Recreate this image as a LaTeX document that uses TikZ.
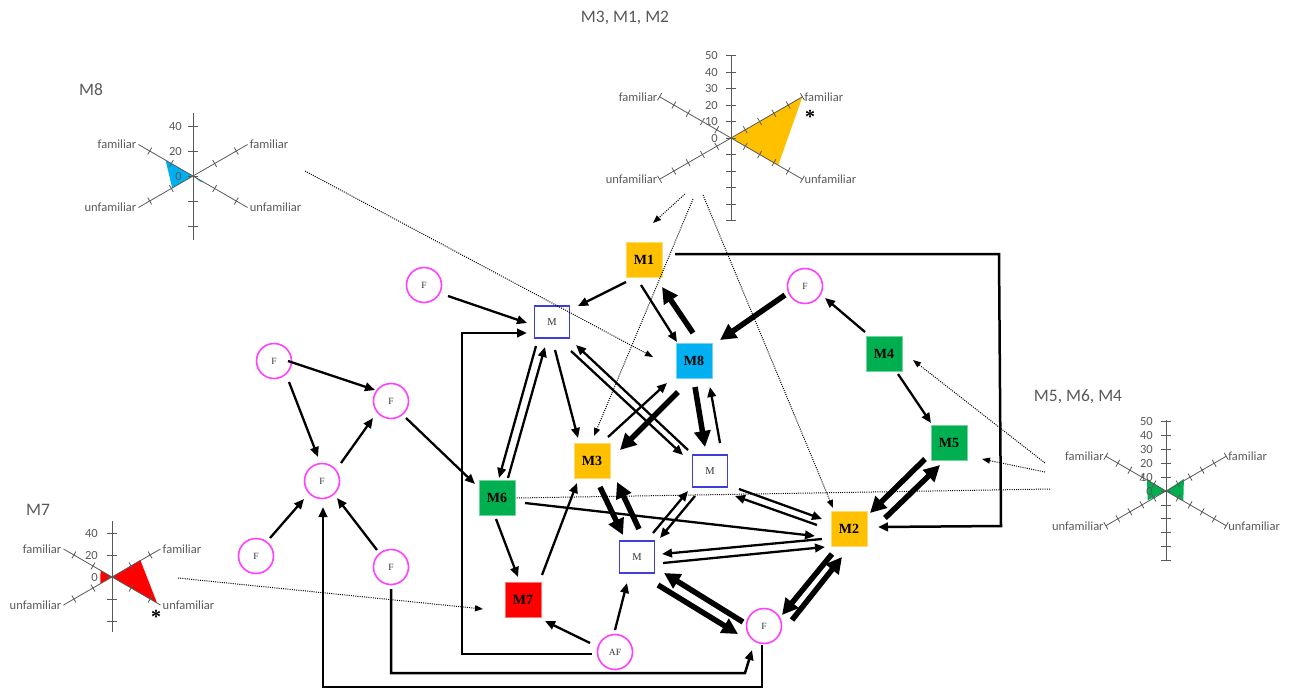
\documentclass[tikz,border=0pt]{standalone}
\usepackage{fontspec}
\setmainfont{Liberation Serif}
\newfontfamily\chartfont{Carlito}
\usetikzlibrary{arrows.meta,calc}
\definecolor{orng}{HTML}{FFC000}
\definecolor{blu}{HTML}{00B0F0}
\definecolor{grn}{HTML}{00B050}
\definecolor{rd}{HTML}{FF0000}
\definecolor{mag}{HTML}{FF40FF}
\definecolor{mboxc}{HTML}{3F3FD8}
\definecolor{axg}{HTML}{595959}
\tikzset{
  cbox/.style={draw=#1!55!white, fill=#1, line width=0.8pt, minimum width=36pt, minimum height=35pt, inner sep=0pt, font=\bfseries\fontsize{14}{16}\selectfont},
  mbox/.style={draw=mboxc, fill=white, line width=1.5pt, minimum width=35pt, minimum height=32pt, inner sep=0pt, font=\fontsize{10.5}{12}\selectfont, text=black!80},
  fnode/.style={circle, draw=mag, line width=1.6pt, minimum size=35pt, inner sep=0pt, font=\fontsize{9.5}{11}\selectfont, text=black!80},
  arrN/.style={line width=2.3pt, -{Triangle[length=10pt,width=8.5pt]}},
  arrT/.style={line width=5.5pt, -{Triangle[length=16pt,width=16pt]}},
  arrE/.style={line width=2.5pt, -{Triangle[length=10pt,width=8.5pt]}},
  dotA/.style={line width=1pt, dash pattern=on 1pt off 1.2pt, -{Triangle[length=8pt,width=6pt]}},
  dotN/.style={line width=1pt, dash pattern=on 1pt off 1.2pt},
  ax/.style={draw=axg, line width=0.8pt},
  lbl/.style={text=axg, font=\chartfont\fontsize{12.5}{14}\selectfont, inner sep=2pt},
  ttl/.style={text=axg, font=\chartfont\fontsize{17.5}{20}\selectfont, inner sep=0pt},
  star/.style={font=\bfseries\fontsize{20}{20}\selectfont, inner sep=0pt}
}
\begin{document}
\begin{tikzpicture}[x=1pt,y=-1pt]
\useasboundingbox (0,0) rectangle (1290,689);

% ---------------- radar: M3, M1, M2 ----------------
\node[ttl] (t1) at (625,18) {M3, M1, M2};
\begin{scope}[shift={(731,138)}]
  \fill[orng] (0,0) -- (-30:82.5) -- (30:54.5) -- cycle;
  \draw[ax] (0,-82) -- (0,82);
  \foreach \k in {-5,...,5} \draw[ax] (-5,{\k*16.5}) -- (5,{\k*16.5});
  \foreach \t in {30,150,210,330} {
    \draw[ax] (0,0) -- (\t:82.5);
    \foreach \k in {1,...,5} \draw[ax] (\t:{\k*16.5}) ++(\t+90:4) -- ++(\t-90:8);
  }
  \foreach \v in {0,10,...,50} \node[lbl,anchor=east,inner sep=1pt] at (-12,{-\v*1.65}) {\v};
  \node[lbl,anchor=east] at (-150:82.5) {familiar};
  \node[lbl,anchor=west] at (-30:82.5) {familiar};
  \node[lbl,anchor=east] at (150:82.5) {unfamiliar};
  \node[lbl,anchor=west] at (30:82.5) {unfamiliar};
  \node[star] at (79,-21) {*};
  \coordinate (r1a) at (-46,56);
  \coordinate (r1b) at (-38,61);
  \coordinate (r1c) at (-28,57);
\end{scope}

% ---------------- radar: M8 ----------------
\node[ttl] (t2) at (91,90) {M8};
\begin{scope}[shift={(193,176)}]
  \fill[blu] (0,0) -- (-150:31.7) -- (150:24) -- cycle;
  \fill[blu] (0,0) -- (30:13) -- (38:9) -- cycle;
  \draw[ax] (0,-63) -- (0,64);
  \foreach \k in {-2,...,2} \draw[ax] (-5,{\k*25}) -- (5,{\k*25});
  \foreach \t in {30,150,210,330} {
    \draw[ax] (0,0) -- (\t:63);
    \foreach \k in {1,2} \draw[ax] (\t:{\k*25}) ++(\t+90:4) -- ++(\t-90:8);
  }
  \foreach \v in {0,20,40} \node[lbl,anchor=east,inner sep=1pt] at (-10,{-\v*1.25}) {\v};
  \node[lbl,anchor=east] at (-150:63) {familiar};
  \node[lbl,anchor=west] at (-30:63) {familiar};
  \node[lbl,anchor=east] at (150:63) {unfamiliar};
  \node[lbl,anchor=west] at (30:63) {unfamiliar};
  \coordinate (r2a) at (112,-5);
\end{scope}

% ---------------- radar: M7 ----------------
\node[ttl] (t3) at (38,510) {M7};
\begin{scope}[shift={(112,577)}]
  \fill[rd] (0,0) -- (-150:13.2) -- (150:13.5) -- cycle;
  \fill[rd] (0,0) -- (-31:33) -- (30:52) -- cycle;
  \draw[ax] (0,-56) -- (0,55);
  \foreach \k in {-2,...,2} \draw[ax] (-5,{\k*22}) -- (5,{\k*22});
  \foreach \t in {30,150,210,330} {
    \draw[ax] (0,0) -- (\t:56);
    \foreach \k in {1,2} \draw[ax] (\t:{\k*22}) ++(\t+90:4) -- ++(\t-90:8);
  }
  \foreach \v in {0,20,40} \node[lbl,anchor=east,inner sep=1pt] at (-13,{-\v*1.1}) {\v};
  \node[lbl,anchor=east] at (-150:56) {familiar};
  \node[lbl,anchor=west] at (-30:56) {familiar};
  \node[lbl,anchor=east] at (150:56) {unfamiliar};
  \node[lbl,anchor=west] at (30:56) {unfamiliar};
  \node[star] at (44,40) {*};
  \coordinate (r3a) at (66,1);
\end{scope}

% ---------------- radar: M5, M6, M4 ----------------
\node[ttl] (t4) at (1078,397) {M5, M6, M4};
\begin{scope}[shift={(1166,491)}]
  \fill[grn] (0,0) -- (-148:22.5) -- (153:20.5) -- cycle;
  \fill[grn] (0,0) -- (-34:21.6) -- (30:20) -- cycle;
  \draw[ax] (0,-71) -- (0,70);
  \foreach \k in {-5,...,5} \draw[ax] (-5,{\k*13.9}) -- (5,{\k*13.9});
  \foreach \t in {30,150,210,330} {
    \draw[ax] (0,0) -- (\t:69.5);
    \foreach \k in {1,...,5} \draw[ax] (\t:{\k*13.9}) ++(\t+90:4) -- ++(\t-90:8);
  }
  \foreach \v in {0,10,...,50} \node[lbl,anchor=east,inner sep=1pt] at (-12,{-\v*1.39}) {\v};
  \node[lbl,anchor=east] at (-150:69.5) {familiar};
  \node[lbl,anchor=west] at (-30:69.5) {familiar};
  \node[lbl,anchor=east] at (150:69.5) {unfamiliar};
  \node[lbl,anchor=west] at (30:69.5) {unfamiliar};
  \coordinate (r4a) at (-121,-28);
  \coordinate (r4b) at (-121,-19);
  \coordinate (r4c) at (-116,-2);
\end{scope}

% ---------------- nodes ----------------
\node[cbox=orng] (M1) at (644,260) {M1};
\node[cbox=blu]  (M8) at (694,361) {M8};
\node[cbox=orng] (M3) at (592,461) {M3};
\node[cbox=grn]  (M6) at (497,498) {M6};
\node[cbox=rd]   (M7) at (523,600) {M7};
\node[cbox=orng] (M2) at (849,529) {M2};
\node[cbox=grn]  (M4) at (884,354) {M4};
\node[cbox=grn]  (M5) at (949,443) {M5};
\node[mbox] (topM) at (552,322) {M};
\node[mbox] (rightM) at (710,471) {M};
\node[mbox] (botM) at (637,557) {M};
\node[fnode] (Fa) at (424,285) {F};
\node[fnode] (Fb) at (274,361) {F};
\node[fnode] (Fc) at (391,401) {F};
\node[fnode] (Fd) at (322,481) {F};
\node[fnode] (Fe) at (256,556) {F};
\node[fnode] (Ff) at (391,567) {F};
\node[fnode] (Fg) at (805,286) {F};
\node[fnode] (Fh) at (764,626) {F};
\node[fnode] (AF) at (615,652) {AF};

% ---------------- dotted links ----------------
\draw[dotA] (r2a) -- ($(M8)+(-41,-4)$);
\draw[dotA] (r1a) -- ($(M1)+(9,-37)$);
\draw[dotA] (r1b) -- ($(M3)+(2,-25)$);
\draw[dotA] (r1c) -- ($(M2)+(-16,-21)$);
\draw[dotA] (r4a) -- ($(M4)+(29,6)$);
\draw[dotA] (r4b) -- ($(M5)+(33,16)$);
\draw[dotN] (r4c) -- (M6.east);
\draw[dotA] (r3a) -- ($(M7)+(-40,9)$);

% ---------------- normal arrows ----------------
\draw[arrN] ($(M1)+(-18,22)$) -- ($(topM)+(26,-16)$);
\draw[arrN] ($(M1)+(-3,25)$) -- ($(M8)+(-17,-19)$);
\draw[arrN] ($(Fa)+(24,11)$) -- ($(topM)+(-25,1)$);
\draw[arrN] ($(topM)+(-16,24)$) -- ($(M6)+(2,-20)$);
\draw[arrN] ($(M6)+(11,-20)$) -- ($(topM)+(-7,25)$);
\draw[arrN] ($(topM)+(3,28)$) -- ($(M3)+(-14,-23)$);
\draw[arrN] ($(topM)+(19,29)$) -- ($(rightM)+(-27,-16)$);
\draw[arrN] ($(rightM)+(-22,-21)$) -- ($(topM)+(24,23)$);
\draw[arrN] ($(M3)+(16,-24)$) -- ($(M8)+(-27,22)$);
\draw[arrN] ($(rightM)+(10,-28)$) -- ($(M8)+(16,26)$);
\draw[arrN] ($(M4)+(-19,-22)$) -- ($(Fg)+(20,12)$);
\draw[arrN] ($(M4)+(14,20)$) -- ($(M5)+(-18,-20)$);
\draw[arrN] ($(rightM)+(29,18)$) -- ($(M2)+(-27,-10)$);
\draw[arrN] ($(M2)+(-32,-4)$) -- ($(rightM)+(25,25)$);
\draw[arrN] ($(M6)+(28,5)$) -- ($(M2)+(-34,7)$);
\draw[arrN] ($(M2)+(-27,10)$) -- ($(botM)+(25,-3)$);
\draw[arrN] ($(botM)+(26,6)$) -- ($(M2)+(-24,18)$);
\draw[arrN] ($(botM)+(16,-24)$) -- ($(rightM)+(-22,20)$);
\draw[arrN] ($(rightM)+(-15,25)$) -- ($(botM)+(23,-19)$);
\draw[arrN] ($(M6)+(-1,21)$) -- ($(M7)+(-5,-23)$);
\draw[arrN] ($(M7)+(19,-25)$) -- ($(M3)+(-15,22)$);
\draw[arrN] ($(AF)+(-25,-9)$) -- ($(M7)+(22,21)$);
\draw[arrN] ($(AF)+(0,-22)$) -- ($(botM)+(-10,26)$);
\draw[arrN] ($(Fb)+(14,0)$) -- ($(Fc)+(-16,-11)$);
\draw[arrN] ($(Fb)+(15,21)$) -- ($(Fd)+(-4,-24)$);
\draw[arrN] ($(Fd)+(19,-18)$) -- ($(Fc)+(-18,17)$);
\draw[arrN] ($(Fe)+(14,-18)$) -- ($(Fd)+(-18,18)$);
\draw[arrN] ($(Ff)+(-14,-17)$) -- ($(Fd)+(15,17)$);
\draw[arrN] ($(Fc)+(15,17)$) -- ($(M6)+(-22,-14)$);

% ---------------- thick arrows ----------------
\draw[arrT] ($(M8)+(-1,-28)$) -- ($(M1)+(18,27)$);
\draw[arrT] ($(M8)+(-16,31)$) -- ($(M3)+(28,-11)$);
\draw[arrT] ($(M8)+(1,26)$) -- ($(rightM)+(-5,-24)$);
\draw[arrT] ($(Fg)+(-20,9)$) -- ($(M8)+(26,-21)$);
\draw[arrT] ($(M5)+(-24,16)$) -- ($(M2)+(21,-16)$);
\draw[arrT] ($(M2)+(36,-11)$) -- ($(M5)+(-9,22)$);
\draw[arrT] ($(M3)+(8,26)$) -- ($(botM)+(-14,-22)$);
\draw[arrT] ($(botM)+(2,-28)$) -- ($(M3)+(25,21)$);
\draw[arrT] ($(botM)+(21,28)$) -- ($(Fh)+(-26,8)$);
\draw[arrT] ($(Fh)+(-21,-4)$) -- ($(botM)+(27,16)$);
\draw[arrT] ($(M2)+(-17,25)$) -- ($(Fh)+(18,-11)$);
\draw[arrT] ($(Fh)+(28,-6)$) -- ($(M2)+(-7,28)$);

% ---------------- elbow arrows ----------------
\draw[arrE] ($(AF)+(-23,2)$) -- ++(-130,0) |- ($(topM)+(-25,11)$);
\draw[arrE] ($(M1)+(31,-6)$) -- ++(324,0) -- ++(2,272) -- ($(M2)+(29,-2)$);
\draw[arrE] ($(Ff)+(0,22)$) -- ++(0,84) -- ++(354,0) -- ($(Fh)+(-12,24)$);
\draw[arrE] ($(Fh)+(-2,19)$) -- ++(0,42) -| ($(Fd)+(1,26)$);
\end{tikzpicture}
\end{document}
